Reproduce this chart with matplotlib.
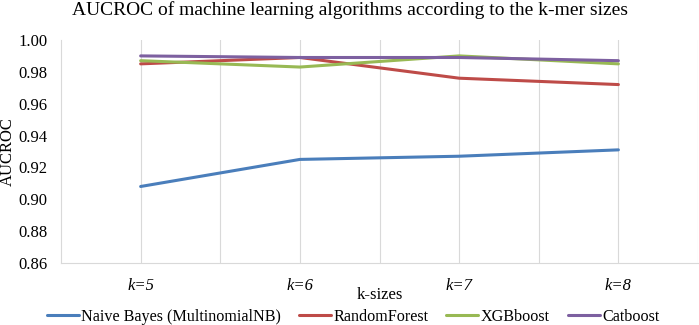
import matplotlib
matplotlib.use("Agg")
import matplotlib.pyplot as plt
from matplotlib.ticker import MultipleLocator, FixedLocator

plt.rcParams['font.family'] = ['Liberation Serif', 'DejaVu Serif']

categories = ["k=5", "k=6", "k=7", "k=8"]
naive_bayes = [0.908, 0.925, 0.927, 0.931]
random_forest = [0.985, 0.989, 0.976, 0.972]
xgboost = [0.987, 0.983, 0.990, 0.985]
catboost = [0.990, 0.989, 0.989, 0.987]

series = [
    ("Naive Bayes (MultinomialNB)", naive_bayes, "#4A7EBB"),
    ("RandomForest", random_forest, "#BE4B48"),
    ("XGBboost", xgboost, "#98B954"),
    ("Catboost", catboost, "#7D60A0"),
]

fig = plt.figure(figsize=(6.99, 3.25), dpi=100)
ax = fig.add_axes([0.0873, 0.191, 0.9113, 0.686])
x = list(range(len(categories)))
for name, vals, col in series:
    ax.plot(x, vals, color=col, lw=2.2, label=name, solid_capstyle='round')

ax.set_xlim(-0.5, 3.5)
ax.set_ylim(0.86, 1.00)
ax.yaxis.set_major_locator(MultipleLocator(0.02))
ax.yaxis.set_major_formatter(matplotlib.ticker.FormatStrFormatter('%.2f'))
ax.set_xticks(x)
ax.set_xticklabels(categories, fontstyle='italic', fontsize=12)
ax.xaxis.set_minor_locator(FixedLocator([0.5, 1.5, 2.5, 3.5]))
ax.tick_params(axis='both', which='both', length=0, labelsize=12)
ax.tick_params(axis='x', pad=11)
ax.tick_params(axis='y', pad=10)
ax.grid(True, axis='x', which='both', color='#D9D9D9', lw=0.8)
ax.set_axisbelow(True)
for s in ['top', 'right']:
    ax.spines[s].set_visible(False)
for s in ['left', 'bottom']:
    ax.spines[s].set_color('#D9D9D9')
    ax.spines[s].set_linewidth(0.8)

ax.set_xlabel("k-sizes", fontsize=12, labelpad=-5)
fig.text(8 / 699, 0.534, "AUCROC", fontsize=12, rotation=90, ha='center', va='center')
fig.text(0.5, 0.998, "AUCROC of machine learning algorithms according to the k-mer sizes",
         fontsize=14, ha='center', va='top')

leg = fig.legend(loc='center', bbox_to_anchor=(0.505, 0.026), ncol=4, frameon=False,
                 fontsize=11.6, handlelength=2.0, handletextpad=0.15, columnspacing=1.1)

fig.savefig("out.png", dpi=100)
